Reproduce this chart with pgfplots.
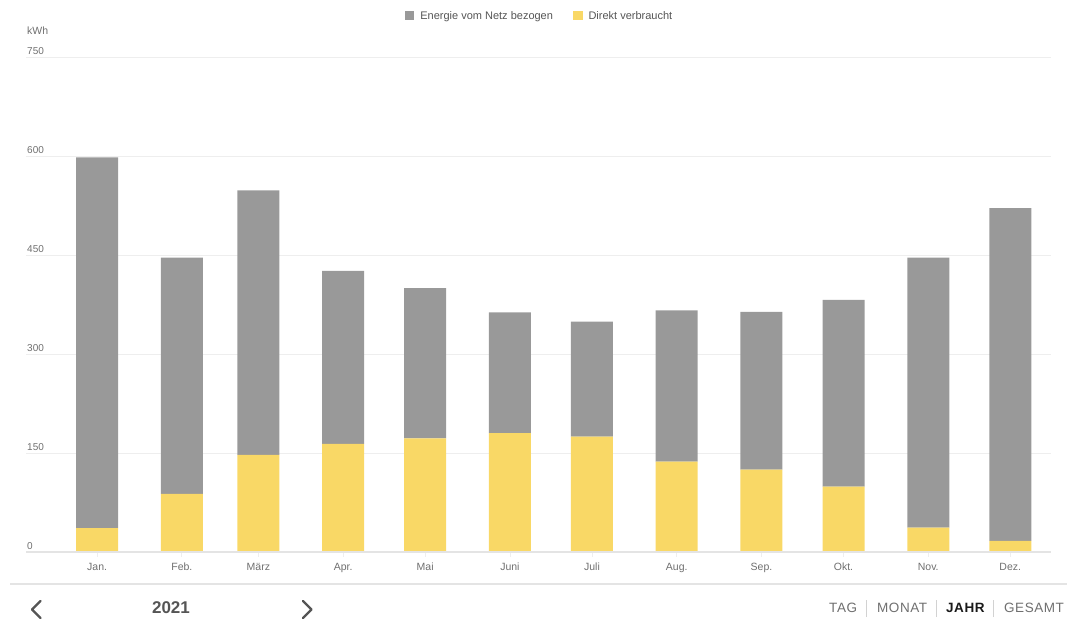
\documentclass[border=0pt]{standalone}
\usepackage{pgfplots}
\pgfplotsset{compat=1.18}
\usepackage{pgfplotstable}
\usepackage{fontspec}
\setmainfont{Liberation Sans}
\definecolor{netz}{HTML}{999999}
\definecolor{direkt}{HTML}{F9D866}
\definecolor{gridc}{HTML}{EEEEEE}
\definecolor{basec}{HTML}{E4E4E4}
\definecolor{tickc}{HTML}{6F6F6F}
\definecolor{txt}{HTML}{555555}
\pgfplotstableread{
day direkt netz
0   36  562
31  88  358
59  147 401
90  164 262
120 172 228
151 180 183
181 175 174
212 137 229
243 125 239
273 99  283
304 37  409
334 17  504
}\datatable
\begin{document}
\begin{tikzpicture}[x=1pt,y=1pt]
\useasboundingbox (0,0) rectangle (1067,624);
\begin{axis}[
  at={(26pt,72pt)}, anchor=south west,
  scale only axis, width=1025pt, height=495pt,
  xmin=-26, xmax=348.9, ymin=0, ymax=750,
  ybar stacked, bar width=42pt,
  axis line style={draw=none},
  ytick={0,150,300,450,600,750},
  ymajorgrids, grid style={gridc, line width=0.9pt},
  ytick style={draw=none},
  yticklabel style={anchor=south west, inner sep=0pt, xshift=6pt, yshift=2.5pt, font=\fontsize{10}{12}\selectfont, text=tickc},
  xtick={0,31,59,90,120,151,181,212,243,273,304,334},
  xticklabels={Jan.,Feb.,März,Apr.,Mai,Juni,Juli,Aug.,Sep.,Okt.,Nov.,Dez.},
  xtick pos=lower,
  xtick style={draw=gridc, line width=0.8pt},
  tick align=outside, major tick length=5pt,
  xticklabel style={font=\fontsize{10.5}{12}\selectfont, text=tickc, text height=8pt, text depth=2pt, yshift=-1.5pt},
  /pgf/number format/assume math mode=true,
  clip=false,
  reverse legend,
  legend columns=2,
  legend style={at={(0.501,1.083)}, anchor=center, draw=none, fill=none,
    font=\fontsize{11}{13}\selectfont, text=txt,
    /tikz/every odd column/.append style={column sep=4pt},
    /tikz/every even column/.append style={column sep=18pt}},
  legend image code/.code={\fill[#1] (0pt,-4.5pt) rectangle (9.5pt,4.5pt);},
]
\draw[basec, line width=1.4pt] (axis cs:-26,0) -- (axis cs:348.9,0);
\addplot[fill=direkt, draw=none] table[x=day, y=direkt] {\datatable};
\addlegendentry{Direkt verbraucht}
\addplot[fill=netz, draw=none] table[x=day, y=netz] {\datatable};
\addlegendentry{Energie vom Netz bezogen}
\end{axis}
\node[anchor=west, inner sep=0pt, font=\fontsize{10.5}{12}\selectfont, text=tickc] at (27,593) {kWh};
\draw[basec, line width=1.5pt] (10,40) -- (1067,40);
\draw[txt, line width=2.2pt, line cap=round, line join=round] (40.5,23) -- (32,14.5) -- (40.5,6);
\draw[txt, line width=2.2pt, line cap=round, line join=round] (303,23) -- (311.5,14.5) -- (303,6);
\node[font=\fontsize{17}{20}\selectfont\bfseries, text=txt] at (171,16) {2021};
\node[anchor=west, inner sep=0pt, font=\fontsize{13.5}{16}\selectfont\addfontfeature{LetterSpace=4}, text=tickc] at (829,16) {TAG};
\node[anchor=west, inner sep=0pt, font=\fontsize{13.5}{16}\selectfont\addfontfeature{LetterSpace=4}, text=tickc] at (877,16) {MONAT};
\node[anchor=west, inner sep=0pt, font=\fontsize{13.5}{16}\selectfont\bfseries\addfontfeature{LetterSpace=4}, text=black!90] at (946,16) {JAHR};
\node[anchor=west, inner sep=0pt, font=\fontsize{13.5}{16}\selectfont\addfontfeature{LetterSpace=4}, text=tickc] at (1004,16) {GESAMT};
\foreach \xx in {866,936,993} \draw[gray!35, line width=0.8pt] (\xx,7) -- (\xx,24);
\end{tikzpicture}
\end{document}
